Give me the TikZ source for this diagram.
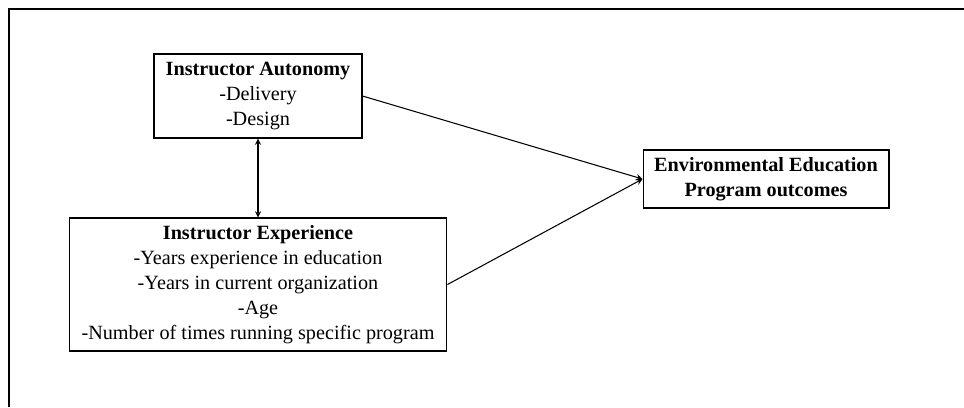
\documentclass[tikz,border=0pt]{standalone}
\usepackage{fontspec}
\setmainfont{Liberation Serif}
\begin{document}
\begin{tikzpicture}[x=0.02cm,y=-0.02cm,
  every node/.style={draw, line width=0.6pt, align=center, inner sep=0pt, font=\fontsize{11.5}{14.2}\selectfont}]
\useasboundingbox (0,0) rectangle (964,407);
\draw[line width=1.1pt] (9,407) -- (9,9) -- (964,9);
\node[minimum width=4.16cm, minimum height=1.68cm] (aut) at (258,96) {\textbf{Instructor Autonomy}\\-Delivery\\-Design};
\node[minimum width=7.56cm, minimum height=2.66cm] (exp) at (258,284.5) {\textbf{Instructor Experience}\\-Years experience in education\\-Years in current organization\\-Age\\-Number of times running specific program};
\node[minimum width=4.92cm, minimum height=1.16cm] (out) at (766,179) {\textbf{Environmental Education}\\\textbf{Program outcomes}};
\draw[<->,>=stealth,line width=0.6pt] (aut.south) -- (exp.north);
\draw[->,>=stealth,line width=0.6pt] (aut.east) -- (out.west);
\draw[->,>=stealth,line width=0.6pt] (exp.east) -- (out.west);
\end{tikzpicture}
\end{document}
